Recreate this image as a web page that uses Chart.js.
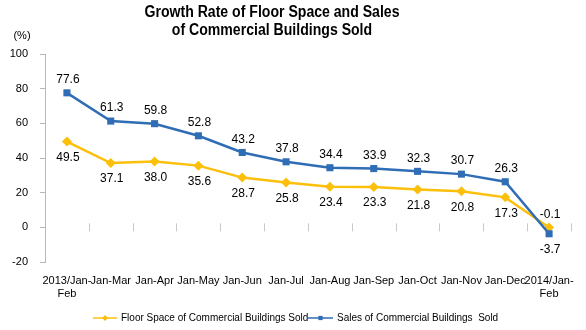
<!DOCTYPE html>
<html>
<head>
<meta charset="utf-8">
<script src="https://cdn.jsdelivr.net/npm/chart.js@4.4.0/dist/chart.umd.min.js"></script>
<style>
  html, body { margin: 0; padding: 0; background: #fff; }
  #wrap { width: 586px; height: 330px; position: relative; }
</style>
</head>
<body>
<div id="wrap"><canvas id="chart" width="586" height="330"></canvas></div>
<script>
// periods on the x axis
const periods = [
    ['2013/Jan-', 'Feb'], 'Jan-Mar', 'Jan-Apr', 'Jan-May', 'Jan-Jun', 'Jan-Jul',
    'Jan-Aug', 'Jan-Sep', 'Jan-Oct', 'Jan-Nov', 'Jan-Dec', ['2014/Jan-', 'Feb']
];
// growth rate (%) of floor space sold
const floorSpace = [49.5, 37.1, 38.0, 35.6, 28.7, 25.8, 23.4, 23.3, 21.8, 20.8, 17.3, -0.1];
// growth rate (%) of sales
const sales = [77.6, 61.3, 59.8, 52.8, 43.2, 37.8, 34.4, 33.9, 32.3, 30.7, 26.3, -3.7];

const seriesNames = ['Floor Space of Commercial Buildings Sold', 'Sales of Commercial Buildings  Sold'];
const yTicks = [-20, 0, 20, 40, 60, 80, 100];

const YELLOW = '#fcbf0a';
const BLUE = '#2f6db5';
const FONT = '"Liberation Sans", Arial, sans-serif';

// Title, unit label, zero-line ticks, value labels and legend
const decorations = {
    id: 'decorations',
    afterDatasetsDraw(chart) {
        const ctx = chart.ctx;
        const area = chart.chartArea;
        const yScale = chart.scales.y;
        const xScale = chart.scales.x;
        ctx.save();

        // tick marks on the zero line between categories
        const y0 = yScale.getPixelForValue(0);
        ctx.strokeStyle = '#c8c8c8';
        ctx.lineWidth = 1;
        const band = (area.right - area.left) / periods.length;
        for (let i = 1; i <= periods.length; i++) {
            const x = Math.round(area.left + band * i) + 0.5;
            ctx.beginPath();
            ctx.moveTo(x, y0 - 4);
            ctx.lineTo(x, y0 + 4);
            ctx.stroke();
        }

        // value labels
        ctx.fillStyle = '#000';
        ctx.font = '12px ' + FONT;
        ctx.textAlign = 'center';
        ctx.textBaseline = 'middle';
        chart.data.datasets.forEach((ds, di) => {
            const meta = chart.getDatasetMeta(di);
            meta.data.forEach((pt, i) => {
                const last = i === ds.data.length - 1;
                let above = ds.labelAbove;
                if (last) above = !above;
                const dy = above ? -13 : 16;
                ctx.fillText(ds.data[i].toFixed(1), pt.x + 1, pt.y + dy);
            });
        });

        // title
        ctx.save();
        ctx.font = 'bold 16px ' + FONT;
        ctx.textBaseline = 'alphabetic';
        ctx.translate(272, 0);
        ctx.scale(0.88, 1);
        ctx.fillText('Growth Rate of Floor Space and Sales', 0, 17);
        ctx.fillText('of Commercial Buildings Sold', 0, 35);
        ctx.restore();

        // unit
        ctx.font = '11px ' + FONT;
        ctx.fillText('(%)', 22, 36);

        // legend
        const legendY = 318;
        const items = [
            { color: YELLOW, style: 'rectRot', x0: 93, x1: 117, tx: 121, name: seriesNames[0] },
            { color: BLUE, style: 'rect', x0: 308, x1: 333, tx: 337, name: seriesNames[1] }
        ];
        items.forEach(it => {
            ctx.strokeStyle = it.color;
            ctx.lineWidth = 1.5;
            ctx.beginPath();
            ctx.moveTo(it.x0, legendY);
            ctx.lineTo(it.x1, legendY);
            ctx.stroke();
            ctx.fillStyle = it.color;
            Chart.helpers.drawPoint(ctx, { pointStyle: it.style, radius: 3, borderWidth: 0 },
                (it.x0 + it.x1) / 2, legendY);
            ctx.fillStyle = '#000';
            ctx.font = '10px ' + FONT;
            ctx.textAlign = 'left';
            ctx.fillText(it.name, it.tx, legendY);
        });

        ctx.restore();
    }
};

new Chart(document.getElementById('chart'), {
    type: 'line',
    data: {
        labels: periods,
        datasets: [
            {
                label: seriesNames[0],
                data: floorSpace,
                borderColor: YELLOW,
                backgroundColor: YELLOW,
                borderWidth: 2.5,
                pointStyle: 'rectRot',
                pointRadius: 5,
                pointBorderWidth: 0,
                tension: 0,
                order: 1,
                labelAbove: false
            },
            {
                label: seriesNames[1],
                data: sales,
                borderColor: BLUE,
                backgroundColor: BLUE,
                borderWidth: 2.5,
                pointStyle: 'rect',
                pointRadius: 5,
                pointBorderWidth: 0,
                tension: 0,
                order: 0,
                labelAbove: true
            }
        ]
    },
    options: {
        responsive: false,
        animation: false,
        layout: { padding: { top: 54, right: 11, bottom: 0, left: 0 } },
        plugins: {
            legend: { display: false },
            title: { display: false },
            tooltip: { enabled: false }
        },
        scales: {
            x: {
                offset: true,
                grid: { display: false, drawTicks: false },
                border: { display: false },
                ticks: {
                    autoSkip: false,
                    maxRotation: 0,
                    minRotation: 0,
                    padding: 12,
                    color: '#000',
                    font: { family: FONT, size: 11 }
                },
                afterFit: scale => { scale.height = 68; }
            },
            y: {
                min: -20,
                max: 100,
                afterBuildTicks: scale => { scale.ticks = yTicks.map(v => ({ value: v })); },
                grid: {
                    drawOnChartArea: false,
                    drawTicks: true,
                    tickLength: 5,
                    color: '#b8b8b8'
                },
                border: { display: true, color: '#b8b8b8', width: 1 },
                ticks: {
                    padding: 12,
                    color: '#000',
                    font: { family: FONT, size: 11 }
                },
                afterFit: scale => { scale.width = 45; }
            }
        }
    },
    plugins: [decorations]
});
</script>
</body>
</html>
